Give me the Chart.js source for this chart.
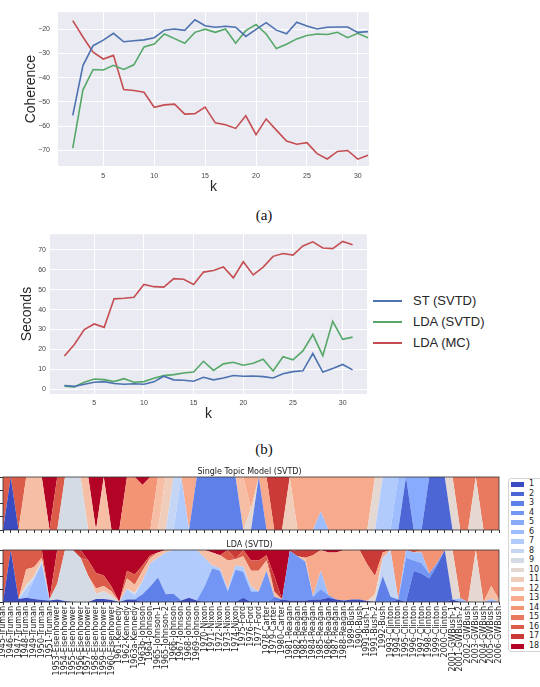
<!DOCTYPE html>
<html lang="en">
<head>
<meta charset="UTF-8">
<title>Coherence, runtime and topic assignments</title>
<script src="https://cdn.jsdelivr.net/npm/chart.js@4.4.1/dist/chart.umd.min.js"></script>
<style>
  body { margin: 0; width: 540px; height: 687px; overflow: hidden; background: #fff; position: relative; }
  canvas { position: absolute; left: 0; }
  .caption { position: absolute; width: 40px; text-align: center; font-family: 'Liberation Serif', 'DejaVu Serif', serif; font-size: 15px; line-height: 16px; color: #111; }
  .lgB { position: absolute; font-family: 'Liberation Sans', Arial, sans-serif; font-size: 13px; line-height: 16px; color: #262626; white-space: nowrap; }
  .lgB i { position: absolute; left: 0; top: 7px; width: 29px; height: 2px; }
  .lgB span { position: absolute; left: 40px; top: 0; }
  #boxC { position: absolute; left: 508px; top: 478px; width: 44px; height: 174px; border: 1px solid #d4d4d4; border-radius: 3px; box-sizing: border-box; background: #fff; }
  .lgC { position: absolute; font-family: 'DejaVu Sans', sans-serif; font-size: 8px; line-height: 10px; color: #222; }
  .lgC i { position: absolute; left: 0; top: 3px; width: 13px; height: 4.5px; }
  .lgC span { position: absolute; left: 18px; top: 0; }
</style>
</head>
<body>
<canvas id="chartA" width="369" height="196" style="top:0"></canvas>
<canvas id="chartB" width="367" height="199" style="top:226px"></canvas>
<canvas id="chartST" width="502" height="72" style="top:462px"></canvas>
<canvas id="chartLDA" width="502" height="152" style="top:535px"></canvas>
<div class="caption" style="left:244px; top:207px">(a)</div>
<div class="caption" style="left:244px; top:441px">(b)</div>
<div id="legendB"></div>
<div id="boxC"></div>
<div id="legendC"></div>

<script>
// --- panel (a)/(b): number of topics k ---
const ks = [2,3,4,5,6,7,8,9,10,11,12,13,14,15,16,17,18,19,20,21,22,23,24,25,26,27,28,29,30,31];

// coherence
const cohST  = [-55.5,-35,-26.8,-24.5,-21.7,-25.2,-24.8,-24.4,-23.5,-20.4,-19.9,-20.5,-16.1,-18.6,-19.2,-18.8,-19.2,-23,-20.1,-17.3,-20.4,-21.9,-17.1,-18.7,-19.9,-19.2,-19.1,-19.1,-21.3,-21];
const cohLDA = [-69,-45,-36.6,-36.8,-34.9,-36.6,-34.7,-27.3,-26.1,-22,-23.9,-25.8,-21.3,-20,-21.3,-19.9,-25.8,-20.6,-18.1,-22,-28,-26.2,-24,-22.6,-22,-22.2,-21.3,-23.5,-21.7,-23.5];
const cohMC  = [-16.5,-23.2,-29.5,-32.3,-30.8,-44.9,-45.3,-46,-52.2,-51.2,-50.9,-55,-54.8,-52.1,-58.6,-59.4,-60.9,-55.7,-63.5,-57,-61.6,-66.1,-67.4,-66.8,-71.3,-73.5,-70.4,-70,-73.6,-72];

// seconds
const secST  = [2,1.5,2.6,3.6,3.9,3,2.6,2.8,2.6,3.8,6.6,4.8,4.6,4.1,6.1,4.8,5.7,7,6.6,6.7,6.4,5.7,7.9,8.9,9.3,18,8.7,10.5,12.5,9.8];
const secLDA = [1.6,1.3,3.6,5.2,4.9,3.9,5.4,3.6,3.9,5.6,6.9,7.4,8.2,8.7,14.1,9.5,12.8,13.6,12.1,13.1,15.1,9.2,16.4,14.8,19.3,27.5,16.9,34.1,25.1,26.2];
const secMC  = [16.7,22.5,30,32.8,31.1,45.4,45.7,46.2,52.6,51.5,51.3,55.5,55.2,52.6,58.8,59.6,61.4,55.9,64,57.4,61.3,66.7,68.1,67.3,71.9,74,70.9,70.6,74.2,72.5];

const seriesNames = ['ST (SVTD)', 'LDA (SVTD)', 'LDA (MC)'];
const kTicks = [5,10,15,20,25,30];
const cohTicks = [-70,-60,-50,-40,-30,-20];
const secTicks = [0,10,20,30,40,50,60,70];

// --- panel (c): State of the Union speeches ---
const speeches = ['1945-Truman','1946-Truman','1947-Truman','1948-Truman','1949-Truman','1950-Truman','1951-Truman',
  '1953-Eisenhower','1954-Eisenhower','1955-Eisenhower','1956-Eisenhower','1957-Eisenhower','1958-Eisenhower','1959-Eisenhower','1960-Eisenhower',
  '1961-Kennedy','1962-Kennedy','1963a-Kennedy','1963b-Johnson','1964-Johnson','1965-Johnson-1','1965-Johnson-2','1966-Johnson','1967-Johnson','1968-Johnson','1969-Johnson',
  '1970-Nixon','1971-Nixon','1972-Nixon','1973-Nixon','1974-Nixon','1975-Ford','1976-Ford','1977-Ford','1978-Carter','1979-Carter','1980-Carter',
  '1981-Reagan','1982-Reagan','1983-Reagan','1984-Reagan','1985-Reagan','1986-Reagan','1987-Reagan','1988-Reagan',
  '1989-Bush','1990-Bush','1991-Bush-1','1991-Bush-2','1992-Bush',
  '1993-Clinton','1994-Clinton','1995-Clinton','1996-Clinton','1997-Clinton','1998-Clinton','1999-Clinton','2000-Clinton',
  '2001-GWBush-1','2001-GWBush-2','2002-GWBush','2003-GWBush','2004-GWBush','2005-GWBush','2006-GWBush'];
const topicIds = [1,2,3,4,5,6,7,8,9,10,11,12,13,14,15,16,17,18];
const fracTicks = [0,0.25,0.5,0.75,1];

// single topic model: one topic per speech, a few speeches are mixed
const stTopic = [16,1,16,12,12,12,18,16,9,9,9,12,18,12,18,18,14,14,14,14,12,11,8,7,13,3,3,3,3,3,3,12,13,3,13,17,17,11,
  13,13,13,13,13,13,13,13,13,13,10,7,7,6,2,5,5,2,2,2,10,15,15,10,15,15,15];
const stMixed = { 18: {14: 0.85, 18: 0.15}, 32: {10: 0.4, 13: 0.6}, 41: {6: 0.35, 13: 0.65} };

// LDA topic proportions per speech (topic: weight)
const ldaMix = [
  {16: 1},
  {1: 1},
  {1: 0.06, 16: 0.94},
  {1: 0.08, 7: 0.18, 9: 0.07, 12: 0.3, 16: 0.37},
  {1: 0.06, 6: 0.38, 9: 0.05, 12: 0.18, 16: 0.33},
  {1: 0.04, 6: 0.7, 9: 0.06, 12: 0.05, 16: 0.15},
  {1: 0.03, 9: 0.02, 18: 0.95},
  {1: 0.05, 9: 0.3, 16: 0.65},
  {1: 0.02, 9: 0.98},
  {9: 1},
  {9: 0.85, 17: 0.15},
  {9: 0.5, 16: 0.3, 18: 0.2},
  {1: 0.06, 9: 0.1, 12: 0.1, 16: 0.3, 18: 0.44},
  {1: 0.06, 9: 0.15, 12: 0.1, 16: 0.2, 18: 0.49},
  {1: 0.04, 9: 0.08, 12: 0.08, 16: 0.1, 18: 0.7},
  {18: 1},
  {1: 0.05, 7: 0.2, 12: 0.2, 16: 0.15, 18: 0.4},
  {1: 0.05, 7: 0.08, 9: 0.05, 12: 0.15, 16: 0.2, 18: 0.47},
  {3: 0.15, 7: 0.25, 12: 0.2, 16: 0.1, 18: 0.3},
  {3: 0.3, 7: 0.45, 12: 0.1, 16: 0.05, 18: 0.1},
  {3: 0.47, 7: 0.38, 12: 0.1, 18: 0.05},
  {3: 0.15, 7: 0.8, 12: 0.05},
  {3: 0.16, 7: 0.84},
  {1: 0.03, 7: 0.97},
  {1: 0.08, 7: 0.92},
  {1: 0.03, 7: 0.97},
  {4: 0.3, 7: 0.55, 12: 0.15},
  {4: 0.65, 7: 0.05, 12: 0.25, 18: 0.05},
  {4: 0.6, 7: 0.05, 12: 0.25, 18: 0.1},
  {4: 0.2, 7: 0.05, 12: 0.55, 16: 0.2},
  {4: 0.62, 7: 0.08, 12: 0.12, 17: 0.18},
  {1: 0.08, 4: 0.5, 7: 0.1, 12: 0.2, 16: 0.12},
  {4: 0.2, 7: 0.1, 12: 0.3, 16: 0.2, 18: 0.2},
  {4: 0.2, 12: 0.4, 16: 0.2, 18: 0.2},
  {4: 0.6, 12: 0.2, 16: 0.1, 18: 0.1},
  {3: 0.1, 12: 0.1, 17: 0.3, 18: 0.5},
  {1: 0.05, 18: 0.95},
  {1: 0.03, 4: 0.95, 18: 0.02},
  {1: 0.03, 4: 0.85, 17: 0.12},
  {1: 0.03, 4: 0.75, 12: 0.07, 17: 0.15},
  {1: 0.05, 4: 0.05, 13: 0.8, 17: 0.1},
  {1: 0.05, 4: 0.2, 6: 0.35, 13: 0.4},
  {1: 0.08, 4: 0.05, 13: 0.82, 18: 0.05},
  {1: 0.05, 13: 0.9, 18: 0.05},
  {1: 0.03, 13: 0.97},
  {1: 0.05, 13: 0.95},
  {1: 0.05, 13: 0.95},
  {1: 0.02, 13: 0.7, 17: 0.28},
  {10: 0.15, 13: 0.35, 17: 0.5},
  {3: 0.5, 8: 0.35, 13: 0.1, 17: 0.05},
  {3: 0.1, 8: 0.9},
  {1: 0.05, 14: 0.95},
  {4: 0.85, 6: 0.15},
  {2: 0.6, 4: 0.2, 6: 0.15, 16: 0.05},
  {2: 0.55, 4: 0.2, 6: 0.2, 14: 0.05},
  {2: 0.45, 4: 0.1, 14: 0.45},
  {2: 0.7, 4: 0.05, 14: 0.25},
  {2: 1},
  {1: 0.05, 10: 0.95},
  {6: 0.07, 15: 0.93},
  {15: 1},
  {10: 1},
  {15: 1},
  {6: 0.06, 12: 0.25, 15: 0.69},
  {12: 0.05, 15: 0.95}
];

// styles
const lineColors = ['#4C72B0', '#55A868', '#C44E52'];
// coolwarm sampled at 18 steps
const topicColors = ['#3B4CC0','#4C66D6','#5F7FE9','#7396F5','#88ABFD','#9DBDFF','#B1CBFC','#C4D6F3','#D5DBE5',
  '#E5D8D2','#F0CDBA','#F6BEA4','#F7AB8C','#F39475','#EA7A5F','#DC5C4A','#CA3B37','#B40426'];

Chart.defaults.font.family = "'Liberation Sans', Arial, sans-serif";

const seabornBg = {
  id: 'seabornBg',
  beforeDraw(chart) {
    const { ctx, chartArea: a } = chart;
    ctx.save();
    ctx.fillStyle = '#EAEAF2';
    ctx.fillRect(a.left, a.top, a.right - a.left, a.bottom - a.top);
    ctx.restore();
  }
};

const frame = {
  id: 'frame',
  afterDatasetsDraw(chart) {
    const { ctx, chartArea: a } = chart;
    ctx.save();
    ctx.strokeStyle = '#333';
    ctx.lineWidth = 0.8;
    ctx.strokeRect(a.left, a.top, a.right - a.left, a.bottom - a.top);
    ctx.restore();
  }
};

const minus = v => (v < 0 ? '\u2212' + Math.abs(v) : String(v));

function linePanel(id, values, o) {
  return new Chart(document.getElementById(id), {
    type: 'line',
    data: {
      datasets: values.map((vals, j) => ({
        label: seriesNames[j],
        data: ks.map((k, i) => ({ x: k, y: vals[i] })),
        borderColor: lineColors[j], borderWidth: 1.6,
        pointRadius: 0, tension: 0, fill: false
      }))
    },
    options: {
      responsive: false, animation: false, events: [],
      layout: { padding: { top: o.padTop, right: 0, bottom: 0, left: 0 } },
      plugins: { legend: { display: false }, tooltip: { enabled: false } },
      scales: {
        x: {
          type: 'linear', min: o.xMin, max: o.xMax,
          afterBuildTicks: s => { s.ticks = kTicks.map(v => ({ value: v })); },
          afterFit: s => { s.height = o.xHeight; },
          grid: { color: '#fff', lineWidth: 1, drawTicks: false },
          border: { display: false },
          ticks: { font: { size: 7 }, color: '#444', padding: o.xTickPad },
          title: { display: true, text: 'k', color: '#262626', font: { size: 14 }, padding: { top: 0, bottom: o.xTitlePad } }
        },
        y: {
          min: o.yMin, max: o.yMax,
          afterBuildTicks: s => { s.ticks = o.yTicks.map(v => ({ value: v })); },
          afterFit: s => { s.width = o.yWidth; },
          grid: { color: '#fff', lineWidth: 1, drawTicks: false },
          border: { display: false },
          ticks: { font: { size: 7 }, color: '#444', padding: o.yTickPad, callback: minus },
          title: { display: true, text: o.yTitle, color: '#262626', font: { size: 14 }, padding: { top: o.yTitlePad, bottom: 0 } }
        }
      }
    },
    plugins: [seabornBg]
  });
}

function fractions(mix) {
  const total = Object.values(mix).reduce((a, b) => a + b, 0);
  return topicIds.map(t => (mix[t] || 0) / total);
}

function areaPanel(id, title, mixes, o) {
  const rows = mixes.map(fractions);
  return new Chart(document.getElementById(id), {
    type: 'line',
    data: {
      labels: speeches,
      datasets: topicIds.map((t, j) => ({
        label: String(t),
        data: rows.map(r => r[j]),
        backgroundColor: topicColors[j],
        borderWidth: 0, pointRadius: 0, tension: 0,
        fill: j === 0 ? 'origin' : '-1'
      }))
    },
    options: {
      responsive: false, animation: false, events: [],
      layout: { padding: { top: 0, right: 3, bottom: 0, left: 0 } },
      plugins: {
        legend: { display: false }, tooltip: { enabled: false },
        title: { display: true, text: title, color: '#222', font: { family: 'DejaVu Sans', size: 8, weight: 'normal', lineHeight: 1.2 }, padding: o.titlePad }
      },
      scales: {
        x: {
          type: 'category', offset: false,
          // fixed axis height, and no extra side padding for the rotated labels
          afterFit: s => { s.height = o.xHeight; s.paddingLeft = 0; s.paddingRight = 0; },
          grid: { drawOnChartArea: false, drawTicks: true, tickLength: 3, color: '#333', offset: false },
          border: { display: false },
          ticks: { display: o.showLabels, autoSkip: false, minRotation: 90, maxRotation: 90, padding: 1,
                   font: { family: 'DejaVu Sans', size: 8 }, color: '#222' }
        },
        y: {
          stacked: true, min: 0, max: 1,
          afterBuildTicks: s => { s.ticks = fracTicks.map(v => ({ value: v })); },
          afterFit: s => { s.width = 3; },
          grid: { drawOnChartArea: false, drawTicks: true, tickLength: 3, color: '#333' },
          border: { display: false },
          ticks: { display: false }
        }
      }
    },
    plugins: [frame]
  });
}

linePanel('chartA', [cohST, cohLDA, cohMC], {
  padTop: 4, xMin: 0.55, xMax: 31.1, xHeight: 30, xTickPad: 6, xTitlePad: 0.6,
  yMin: -76.4, yMax: -13.0, yTicks: cohTicks, yWidth: 58, yTickPad: 8, yTitle: 'Coherence', yTitlePad: 23
});

linePanel('chartB', [secST, secLDA, secMC], {
  padTop: 6, xMin: 0.55, xMax: 32.45, xHeight: 31, xTickPad: 5, xTitlePad: 2.6,
  yMin: -2.3, yMax: 77.8, yTicks: secTicks, yWidth: 50, yTickPad: 4, yTitle: 'Seconds', yTitlePad: 18.8
});

const stMixes = stTopic.map((t, i) => stMixed[i] || { [t]: 1 });
areaPanel('chartST', 'Single Topic Model (SVTD)', stMixes, { titlePad: { top: 5.4, bottom: 0 }, xHeight: 4, showLabels: false });
areaPanel('chartLDA', 'LDA (SVTD)', ldaMix, { titlePad: { top: 4.7, bottom: 0.7 }, xHeight: 85, showLabels: true });

// legend for (b)
const legendB = document.getElementById('legendB');
seriesNames.forEach((name, j) => {
  const row = document.createElement('div');
  row.className = 'lgB';
  row.style.left = '373px';
  row.style.top = (293 + j * 20.8) + 'px';
  row.innerHTML = `<i style="background:${lineColors[j]}"></i><span>${name}</span>`;
  legendB.appendChild(row);
});

// legend for (c)
const legendC = document.getElementById('legendC');
topicIds.forEach((t, j) => {
  const row = document.createElement('div');
  row.className = 'lgC';
  row.style.left = '511px';
  row.style.top = (479 + j * 9.53) + 'px';
  row.innerHTML = `<i style="background:${topicColors[j]}"></i><span>${t}</span>`;
  legendC.appendChild(row);
});
</script>
</body>
</html>
